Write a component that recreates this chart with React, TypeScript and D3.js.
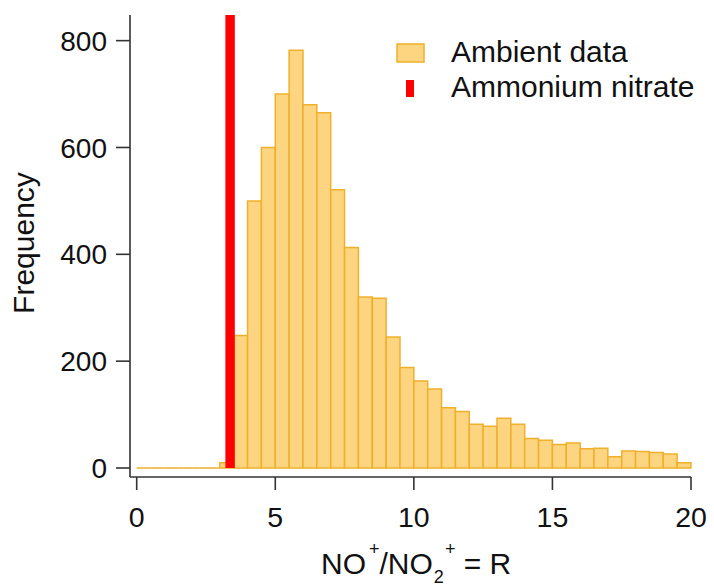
import React from 'react'
import * as d3 from 'd3'

const width = 714
const height = 586

// histogram of R, bins of 0.5 starting at 0
const binStart = 0
const binWidth = 0.5
const frequency = [
  0, 0, 0, 0, 0, 0, 10, 248, 500, 600, 700, 782, 680, 665, 521, 413, 320, 318, 245, 188,
  163, 148, 113, 106, 82, 78, 93, 82, 55, 52, 44, 47, 36, 37, 21, 32, 31, 29, 26, 10,
]
const ammoniumNitrateR = [3.37]
const ammoniumNitrateWidth = 0.34
const xTicks = [0, 5, 10, 15, 20]
const yTicks = [0, 200, 400, 600, 800]
const legendLabels = ['Ambient data', 'Ammonium nitrate']

const barFill = '#FDD480'
const barStroke = '#EFB02C'
const red = '#FF0000'
const axisColor = '#333333'
const font = '"Liberation Sans", Arial, sans-serif'

const x = d3.scaleLinear().domain([0, 20]).range([136.7, 691])
const y = d3.scaleLinear().domain([0, 848]).range([468, 15])

const axisLeft = 130
const axisBottom = 477

export default function App() {
  const bins = frequency.map((v, i) => ({
    x0: binStart + i * binWidth,
    x1: binStart + (i + 1) * binWidth,
    v,
  }))

  // path so that empty bins still show as a flat line
  const barPath = (b) => {
    const p = d3.path()
    p.moveTo(x(b.x0), y(0))
    p.lineTo(x(b.x0), y(b.v))
    p.lineTo(x(b.x1), y(b.v))
    p.lineTo(x(b.x1), y(0))
    p.closePath()
    return p.toString()
  }

  return (
    <svg
      width={width}
      height={height}
      style={{ position: 'absolute', left: 0, top: 0, background: '#fff' }}
      fontFamily={font}
    >
      {/* histogram */}
      {bins.map((b, i) => (
        <path key={i} d={barPath(b)} fill={barFill} stroke={barStroke} strokeWidth={1.5} />
      ))}

      {/* ammonium nitrate line */}
      {ammoniumNitrateR.map((r, i) => (
        <rect
          key={i}
          x={x(r - ammoniumNitrateWidth / 2)}
          y={y(848)}
          width={x(ammoniumNitrateWidth) - x(0)}
          height={y(0) - y(848)}
          fill={red}
        />
      ))}

      {/* y axis */}
      <line x1={axisLeft} x2={axisLeft} y1={y(848)} y2={axisBottom} stroke={axisColor} strokeWidth={1.6} />
      {yTicks.map(t => (
        <g key={t}>
          <line x1={axisLeft - 14} x2={axisLeft} y1={y(t)} y2={y(t)} stroke={axisColor} strokeWidth={1.6} />
          <text x={107} y={y(t)} dy="0.36em" textAnchor="end" fontSize={28} fill="#111">
            {t}
          </text>
        </g>
      ))}

      {/* x axis */}
      <line x1={axisLeft} x2={x(20)} y1={axisBottom} y2={axisBottom} stroke={axisColor} strokeWidth={1.6} />
      {xTicks.map(t => (
        <g key={t}>
          <line x1={x(t)} x2={x(t)} y1={axisBottom} y2={axisBottom + 13} stroke={axisColor} strokeWidth={1.6} />
          <text x={x(t)} y={527} textAnchor="middle" fontSize={28.5} fill="#111">
            {t}
          </text>
        </g>
      ))}

      {/* axis titles */}
      <text x={321} y={574} fontSize={30} fill="#111">
        NO
        <tspan fontSize={18} dx={3} dy={-19}>+</tspan>
        <tspan dy={19}>/NO</tspan>
        <tspan fontSize={18} dx={1} dy={9}>2</tspan>
        <tspan fontSize={18} dx={1} dy={-28}>+</tspan>
        <tspan dy={19}>{' = R'}</tspan>
      </text>
      <text
        transform={`translate(34,${243}) rotate(-90)`}
        textAnchor="middle"
        fontSize={30}
        fill="#111"
      >
        Frequency
      </text>

      {/* legend */}
      <rect x={397} y={44} width={27} height={18} fill={barFill} stroke={barStroke} strokeWidth={1.5} />
      <text x={451} y={62} fontSize={30} fill="#111">{legendLabels[0]}</text>
      <rect x={406} y={80} width={8} height={17} fill={red} />
      <text x={451} y={97} fontSize={30} fill="#111">{legendLabels[1]}</text>
    </svg>
  )
}
